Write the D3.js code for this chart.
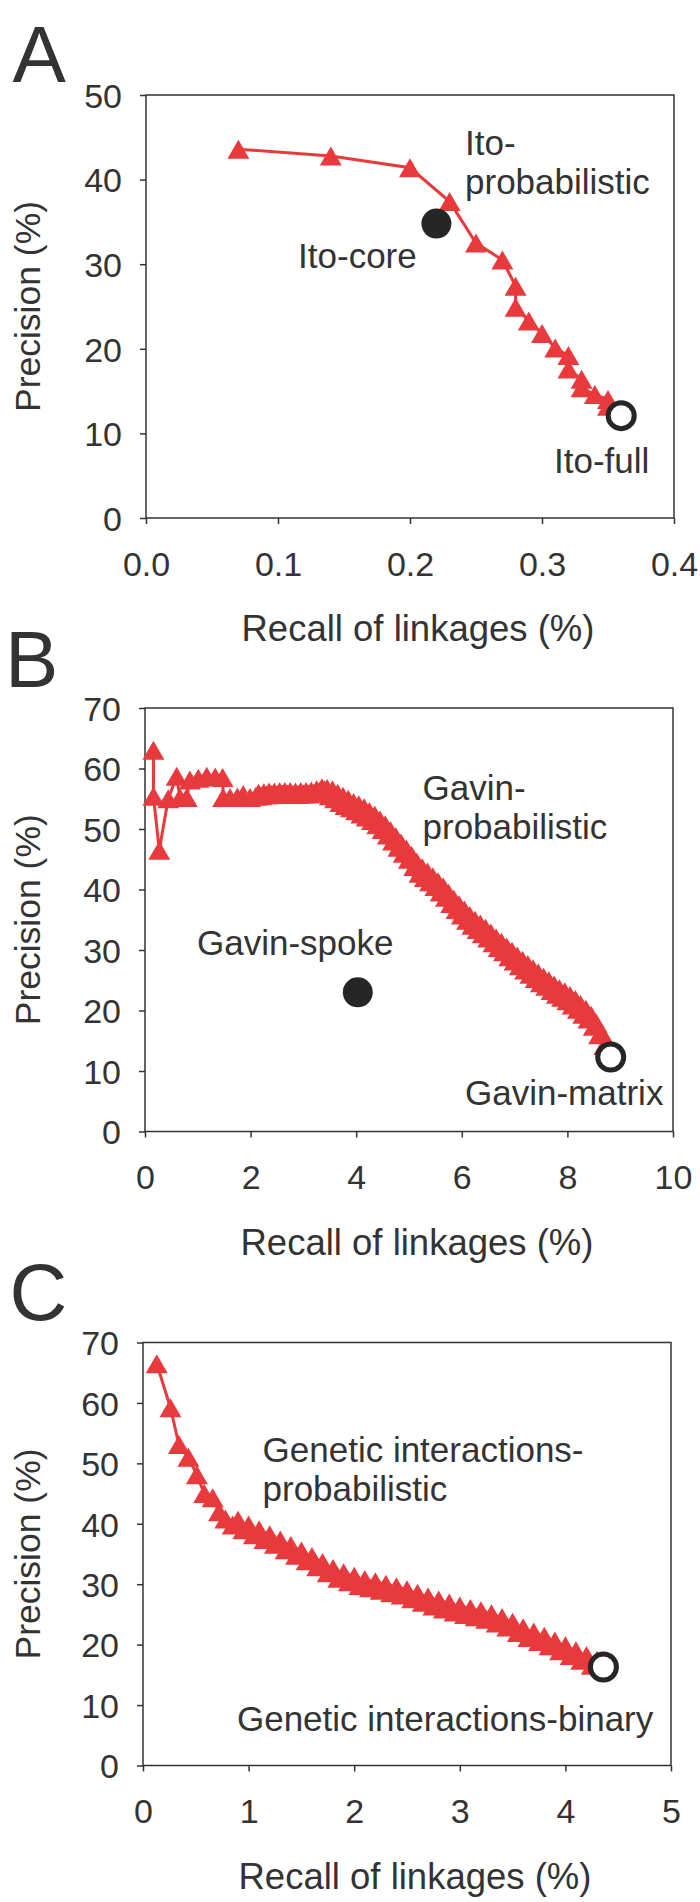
<!DOCTYPE html>
<html><head><meta charset="utf-8">
<script src="https://cdn.jsdelivr.net/npm/d3@7"></script>
<style>
body{margin:0;background:#fff}
text{font-family:"Liberation Sans",Arial,Helvetica,sans-serif;fill:#333}
</style></head><body><svg id="c" width="700" height="1902"></svg>
<script>
// ---------- DATA ----------
const panelLetters = ["A", "B", "C"];
const xTitle = "Recall of linkages (%)";
const yTitle = "Precision (%)";

// Panel A: Ito
const itoProbRecall = [0.07, 0.14, 0.20, 0.23, 0.25, 0.27, 0.28, 0.28, 0.29, 0.30, 0.31, 0.32, 0.32, 0.33, 0.33, 0.34, 0.35, 0.35];
const itoProbPrecision = [43.6, 42.8, 41.4, 37.4, 32.5, 30.5, 27.4, 24.9, 23.3, 21.8, 20.1, 19.2, 17.6, 16.4, 15.4, 14.6, 14.0, 13.2];
const itoRefNames = ["Ito-core", "Ito-full"];
const itoRefRecall = [0.22, 0.36];
const itoRefPrecision = [34.8, 12.1];
const itoRefFilled = [true, false];
const xTicksA = [0, 0.1, 0.2, 0.3, 0.4];
const yTicksA = [0, 10, 20, 30, 40, 50];

// Panel B: Gavin
const gavinProbRecall = [0.16, 0.16, 0.27, 0.44, 0.60, 0.66, 0.79, 0.85, 1.01, 1.17, 1.33, 1.47, 1.48, 1.61, 1.75, 1.86, 1.99,
  2.10, 2.15, 2.20, 2.25, 2.30, 2.35, 2.40, 2.45, 2.50, 2.55, 2.60, 2.65, 2.70, 2.75, 2.80, 2.85, 2.90, 2.95,
  3.00, 3.05, 3.10, 3.15, 3.20, 3.25, 3.30, 3.35, 3.40, 3.45, 3.50, 3.55, 3.60, 3.65, 3.70, 3.75, 3.80, 3.85, 3.90, 3.95,
  4.00, 4.05, 4.10, 4.15, 4.20, 4.25, 4.30, 4.35, 4.40, 4.45, 4.50, 4.55, 4.60, 4.65, 4.70, 4.75, 4.80, 4.85, 4.90, 4.95,
  5.00, 5.05, 5.10, 5.15, 5.20, 5.25, 5.30, 5.35, 5.40, 5.45, 5.50, 5.55, 5.60, 5.65, 5.70, 5.75, 5.80, 5.85, 5.90, 5.95,
  6.00, 6.05, 6.10, 6.15, 6.20, 6.25, 6.30, 6.35, 6.40, 6.45, 6.50, 6.55, 6.60, 6.65, 6.70, 6.75, 6.80, 6.85, 6.90, 6.95,
  7.00, 7.05, 7.10, 7.15, 7.20, 7.25, 7.30, 7.35, 7.40, 7.45, 7.50, 7.55, 7.60, 7.65, 7.70, 7.75, 7.80, 7.85, 7.90, 7.95,
  8.00, 8.05, 8.10, 8.15, 8.20, 8.25, 8.30, 8.35, 8.40, 8.45, 8.50, 8.55, 8.60, 8.65, 8.70, 8.75, 8.80];
const gavinProbPrecision = [63.0, 55.4, 46.5, 55.0, 58.7, 55.2, 55.2, 58.1, 58.4, 58.7, 58.6, 58.5, 55.2, 55.2, 55.3, 55.7, 55.2,
  55.4, 55.9, 55.5, 56.0, 55.6, 56.1, 55.7, 56.1, 55.7, 56.2, 55.8, 56.2, 55.8, 56.2, 55.7, 56.1, 55.7, 56.2,
  55.8, 56.2, 55.8, 56.3, 55.9, 56.5, 56.2, 56.8, 56.5, 56.7, 55.5, 56.5, 55.0, 55.9, 54.4, 55.4, 53.9, 54.9, 53.5, 54.4,
  53.0, 54.0, 52.5, 53.5, 52.0, 52.9, 51.4, 52.3, 50.7, 51.5, 49.9, 50.7, 49.0, 49.7, 48.0, 48.7, 47.0, 47.7, 46.0, 46.7,
  45.0, 45.6, 43.8, 44.5, 42.7, 43.6, 42.0, 42.9, 41.3, 42.1, 40.5, 41.3, 39.6, 40.4, 38.7, 39.4, 37.7, 38.4, 36.7, 37.5,
  35.8, 36.6, 34.9, 35.7, 34.1, 34.9, 33.4, 34.3, 32.7, 33.6, 32.0, 32.8, 31.2, 32.0, 30.4, 31.3, 29.7, 30.5, 28.9, 29.8,
  28.2, 29.0, 27.4, 28.3, 26.7, 27.6, 26.0, 26.9, 25.3, 26.2, 24.6, 25.5, 24.0, 24.9, 23.3, 24.2, 22.7, 23.6, 22.2, 23.1,
  21.6, 22.5, 20.9, 21.8, 20.2, 21.0, 19.4, 20.2, 18.6, 19.2, 17.4, 17.9, 16.0, 16.3, 14.2, 14.4, 12.5];
const gavinRefNames = ["Gavin-spoke", "Gavin-matrix"];
const gavinRefRecall = [4.03, 8.82];
const gavinRefPrecision = [23.0, 12.3];
const gavinRefFilled = [true, false];
const xTicksB = [0, 2, 4, 6, 8, 10];
const yTicksB = [0, 10, 20, 30, 40, 50, 60, 70];

// Panel C: Genetic interactions
const geneticProbRecall = [0.13, 0.26, 0.34, 0.43, 0.51, 0.58, 0.66, 0.72, 0.78,
  0.85, 0.90, 0.95, 1.00, 1.05, 1.10, 1.15, 1.20, 1.25, 1.30, 1.35, 1.40, 1.45, 1.50, 1.55, 1.60, 1.65, 1.70, 1.75, 1.80,
  1.85, 1.90, 1.95, 2.00, 2.05, 2.10, 2.15, 2.20, 2.25, 2.30, 2.35, 2.40, 2.45, 2.50, 2.55, 2.60, 2.65, 2.70, 2.75, 2.80,
  2.85, 2.90, 2.95, 3.00, 3.05, 3.10, 3.15, 3.20, 3.25, 3.30, 3.35, 3.40, 3.45, 3.50, 3.55, 3.60, 3.65, 3.70, 3.75, 3.80,
  3.85, 3.90, 3.95, 4.00, 4.05, 4.10, 4.15, 4.20, 4.25, 4.30];
const geneticProbPrecision = [66.5, 59.2, 53.1, 51.0, 48.1, 45.0, 44.3, 42.0, 40.8,
  39.8, 40.6, 39.0, 39.8, 38.2, 39.0, 37.4, 38.2, 36.6, 37.3, 35.7, 36.4, 34.8, 35.5, 33.9, 34.6, 32.9, 33.6, 31.9, 32.6,
  31.0, 31.9, 30.4, 31.3, 29.8, 30.8, 29.4, 30.4, 29.0, 30.0, 28.6, 29.6, 28.2, 29.1, 27.6, 28.5, 27.0, 27.9, 26.4, 27.4,
  25.9, 26.9, 25.4, 26.4, 25.0, 26.0, 24.6, 25.6, 24.2, 25.1, 23.6, 24.5, 22.9, 23.7, 22.0, 22.8, 21.2, 22.1, 20.5, 21.4,
  19.8, 20.6, 19.0, 19.8, 18.2, 19.0, 17.4, 18.2, 16.6, 17.4];
const geneticRefNames = ["Genetic interactions-binary"];
const geneticRefRecall = [4.36];
const geneticRefPrecision = [16.3];
const geneticRefFilled = [false];
const xTicksC = [0, 1, 2, 3, 4, 5];
const yTicksC = [0, 10, 20, 30, 40, 50, 60, 70];

// Annotation texts (lines) anchored in data coordinates
const annotA = [{lines: ["Ito-", "probabilistic"], x: 0.2417, y: 42.9}, {lines: ["Ito-core"], x: 0.1152, y: 29.55}, {lines: ["Ito-full"], x: 0.3091, y: 5.3}];
const annotB = [{lines: ["Gavin-", "probabilistic"], x: 5.256, y: 54.8}, {lines: ["Gavin-spoke"], x: 0.985, y: 29.1}, {lines: ["Gavin-matrix"], x: 6.061, y: 4.3}];
const annotC = [{lines: ["Genetic interactions-", "probabilistic"], x: 1.132, y: 50.25}, {lines: ["Genetic interactions-binary"], x: 0.890, y: 5.7}];

// ---------- LAYOUT ----------
const RED = "#e83a3c", DARK = "#262626", AXIS = "#333";
const svg = d3.select("#c");

const panels = [
  {letter: panelLetters[0], lx: 12.5, ly: 82, left: 146, right: 674, top: 95, bottom: 518,
   xDom: [0, 0.4], xt: xTicksA, xf: d3.format(".1f"), yDom: [0, 50], yt: yTicksA,
   sx: itoProbRecall, sy: itoProbPrecision,
   rn: itoRefNames, rx: itoRefRecall, ry: itoRefPrecision, rf: itoRefFilled, ann: annotA},
  {letter: panelLetters[1], lx: 5, ly: 687, left: 145, right: 673, top: 708, bottom: 1131.5,
   xDom: [0, 10], xt: xTicksB, xf: d3.format("d"), yDom: [0, 70], yt: yTicksB,
   sx: gavinProbRecall, sy: gavinProbPrecision,
   rn: gavinRefNames, rx: gavinRefRecall, ry: gavinRefPrecision, rf: gavinRefFilled, ann: annotB},
  {letter: panelLetters[2], lx: 9.5, ly: 1320, left: 143, right: 671, top: 1342.5, bottom: 1765.5,
   xDom: [0, 5], xt: xTicksC, xf: d3.format("d"), yDom: [0, 70], yt: yTicksC,
   sx: geneticProbRecall, sy: geneticProbPrecision,
   rn: geneticRefNames, rx: geneticRefRecall, ry: geneticRefPrecision, rf: geneticRefFilled, ann: annotC}
];

const triPath = "M0,-9.5L11,9.5L-11,9.5Z";

panels.forEach(p => {
  const x = d3.scaleLinear().domain(p.xDom).range([p.left, p.right]);
  const y = d3.scaleLinear().domain(p.yDom).range([p.bottom, p.top]);
  const g = svg.append("g");

  g.append("text").attr("x", p.lx).attr("y", p.ly).attr("font-size", 80).text(p.letter);

  const xa = g.append("g").attr("transform", `translate(0,${p.bottom})`)
    .call(d3.axisBottom(x).tickValues(p.xt).tickFormat(p.xf).tickSize(6).tickSizeOuter(0).tickPadding(27.5));
  const ya = g.append("g").attr("transform", `translate(${p.left},0)`)
    .call(d3.axisLeft(y).tickValues(p.yt).tickSize(6).tickSizeOuter(0).tickPadding(18));
  [xa, ya].forEach(a => {
    a.select(".domain").remove();
    a.selectAll(".tick line").attr("stroke", AXIS).attr("stroke-width", 1.5);
    a.selectAll(".tick text").attr("font-size", 34).attr("font-family", "Liberation Sans, Arial, sans-serif").attr("fill", "#333");
  });
  ya.selectAll(".tick text").attr("dy", "0.36em");

  g.append("rect").attr("x", p.left).attr("y", p.top)
    .attr("width", p.right - p.left).attr("height", p.bottom - p.top)
    .attr("fill", "none").attr("stroke", AXIS).attr("stroke-width", 1.5);

  g.append("text").attr("x", (p.left + p.right) / 2 + 8).attr("y", p.bottom + 123)
    .attr("text-anchor", "middle").attr("font-size", 36.5).text(xTitle);
  g.append("text").attr("transform", `translate(39.5,${(p.top + p.bottom) / 2}) rotate(-90)`)
    .attr("text-anchor", "middle").attr("font-size", 35.5).text(yTitle);

  const pts = p.sx.map((v, i) => [v, p.sy[i]]);
  g.append("path").datum(pts)
    .attr("d", d3.line().x(d => x(d[0])).y(d => y(d[1])))
    .attr("fill", "none").attr("stroke", RED).attr("stroke-width", 3);
  g.selectAll(".tri").data(pts).join("path").attr("class", "tri")
    .attr("d", triPath).attr("transform", d => `translate(${x(d[0])},${y(d[1])})`)
    .attr("fill", RED);

  p.rx.forEach((v, i) => {
    const c = g.append("circle").attr("cx", x(v)).attr("cy", y(p.ry[i]));
    if (p.rf[i]) c.attr("r", 15).attr("fill", DARK);
    else c.attr("r", 13).attr("fill", "#fff").attr("stroke", DARK).attr("stroke-width", 5);
  });

  p.ann.forEach(a => {
    const t = g.append("text").attr("x", x(a.x)).attr("y", y(a.y)).attr("font-size", 35);
    a.lines.forEach((ln, i) => {
      t.append("tspan").attr("x", x(a.x)).attr("dy", i === 0 ? 0 : 39).text(ln);
    });
  });
});
</script></body></html>
